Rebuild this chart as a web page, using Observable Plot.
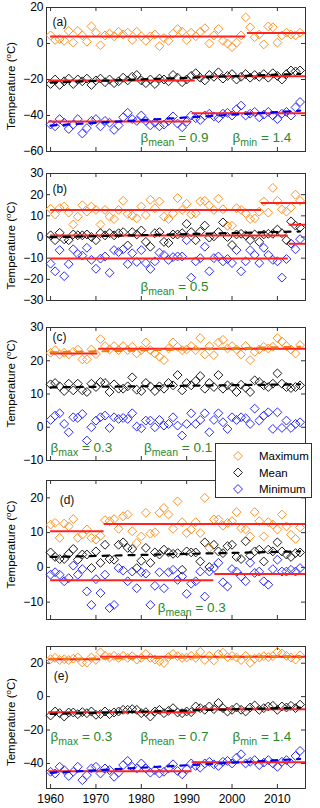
<!DOCTYPE html>
<html><head><meta charset="utf-8">
<script src="https://cdn.jsdelivr.net/npm/d3@7"></script>
<script src="https://cdn.jsdelivr.net/npm/@observablehq/plot@0.6"></script>
<style>
body{margin:0;background:#fff;}
#chart{position:relative;width:320px;height:808px;font-family:"Liberation Sans",Arial,sans-serif;overflow:hidden;}
#chart svg{position:absolute;left:0;overflow:visible;}
</style></head><body><div id="chart"></div>
<script>
// ---------- data ----------
const years = [1960,1961,1962,1963,1964,1965,1966,1967,1968,1969,1970,1971,1972,1973,1974,1975,1976,1977,1978,1979,1980,1981,1982,1983,1984,1985,1986,1987,1988,1989,1990,1991,1992,1993,1994,1995,1996,1997,1998,1999,2000,2001,2002,2003,2004,2005,2006,2007,2008,2009,2010,2011,2012,2013,2014,2015];
const xTicks = [1960,1970,1980,1990,2000,2010];

// panel (a)
const aMax = [4.5,2,2.5,1.5,7,0.5,7,4.5,1,9.5, 6,-1,4.5,5.5,4,6.5,5,6,2,6.5, 4,1.5,4,5,-1.5,3,1.5,5.5,8,6.5, 2,6,4,6.5,8.5,0,4.5,8,1.5,0, -2,0.5,4.5,14.5,9,3.5,5,-0.5,9.5,9, 0.5,4.5,6,5,4.5,6];
const aMean = [-22.5,-20,-23,-21,-19.5,-22.5,-20,-21,-19.5,-23, -20.5,-19.5,-21.5,-20,-22,-21,-19,-20.5,-18.5,-17.5, -20.5,-22,-20,-22.5,-19.5,-20,-21,-17.5,-19,-21.5, -20,-18,-16.5,-19,-20.5,-17.5,-18.5,-16,-19.5,-18, -17,-20,-18.5,-17,-19,-17.5,-18.5,-17,-19,-16.5, -18,-20,-17,-15,-15.5,-15];
const aMin = [-45,-46,-42,-44,-47.5,-45,-42,-50,-47,-43, -42,-46,-43,-44,-48,-45.5,-41,-38.5,-42,-43, -40,-43,-45.5,-44,-46,-45,-43,-40.5,-44.5,-46.5, -43.5,-40,-41.5,-42.5,-40,-39,-40.5,-41.5,-39,-38.5, -40,-36.5,-34.5,-40,-39,-38,-41,-39.5,-38,-40, -42,-39,-38,-40,-35.5,-32.5];
const aSegments = [
  {series:"max", from:1960, to:2003, value:3.9},
  {series:"max", from:2003.4, to:2016.2, value:5.8},
  {series:"mean", from:1959.6, to:1991.9, value:-20.5},
  {series:"mean", from:1991.9, to:2016.2, value:-18.2},
  {series:"min", from:1959.6, to:1991, value:-43.4},
  {series:"min", from:1991.2, to:2016.2, value:-38.8}
];
const aTrends = [
  {series:"mean", start:-21.7, end:-16.9},
  {series:"min", start:-45.6, end:-37.3}
];
const aBetas = [{sub:"mean", value:"0.9"}, {sub:"min", value:"1.4"}];

// panel (b)
const bMax = [13.3,10.7,13.6,14.4,11.5,5.9,9.6,15,12,14.4, 12.8,5.9,12.8,9.6,8.5,12.8,17.1,10.9,10.1,8.8, 14.4,10.4,17.6,13.6,16.8,9.6,8.5,11.2,18.4,12.8, 15.7,10.7,11.2,16.8,17.1,14.9,12.8,18.1,13.1,5.3, 5.3,13.6,12.8,11.2,8.5,8.8,12,16.8,11.5,23.2, 17.1,13.1,12,13.9,20,17.1];
const bMean = [0.8,-1.5,2,-1.1,-1.5,1.2,0.8,0.8,1.2,0, -1.5,1.8,0.8,1.8,0.8,1.8,2.3,-4,2.3,1.2, 3.1,-2.3,-4.6,1.8,2.3,-2.3,-2.8,1.2,1.2,1.8, 6.2,2.3,-1.5,2.6,5.4,-0.3,0.3,2.3,6.9,0, -3.8,1.2,1.5,0.8,-1.5,1.2,-2.3,1.2,1.5,1.5, 3.5,1.8,-1.5,7.4,5.4,4.5];
const bMin = [-12.6,-16.2,-6.2,-18.5,-12.8,-5.8,-8,-8.8,-5.1,-10.8, -15,-10.2,-9.2,-16.9,-6.2,-7.1,-5.8,-12.8,-7.7,-11.8, -6.2,-12.3,-15.1,-11.5,-7.4,-8.5,-10.8,-9.5,-9.2,-9.2, -1.5,-19.2,-11.5,-10,-4.6,-16.2,-10,-9.2,-11.5,-10.4, -12.3,-6.2,-16.2,-11.5,-6.2,-8.5,-12.3,-5.1,-8.5,-10.8, -11.5,-19.2,-10.4,-3.1,-5.8,-1];
const bSegments = [
  {series:"max", from:1960, to:2006.5, value:12.7},
  {series:"max", from:2006.5, to:2016.2, value:16.1},
  {series:"mean", from:1960, to:2012.4, value:0.7},
  {series:"mean", from:2012.6, to:2016.2, value:5.8},
  {series:"min", from:1960, to:2012.4, value:-10.2},
  {series:"min", from:2012.6, to:2016.2, value:-3.2}
];
const bTrends = [{series:"mean", start:-0.1, end:2.6}];
const bBetas = [{sub:"mean", value:"0.5"}];

// panel (c)
const cMax = [22.4,23.2,21.9,22.4,21.9,22.7,23.4,20.4,20.4,23.4, 22,26.5,24.4,23.4,24.4,23.2,24.4,23.2,24.2,22.2, 23.2,25.5,23.2,22.2,21.2,20.2,23.7,25.5,24.2,23.2, 23.4,24.4,23.2,26.8,21.9,24.4,21.7,25.5,26.3,23.7, 24.4,23.4,21.9,24.4,20.2,22.7,23.4,24.2,23.7,24.2, 26.8,25.8,24.4,23.4,22.2,24.7];
const cMean = [12.9,13.3,12.3,10.9,13.1,11.1,13.1,11.1,10.6,13.1, 12.1,13.6,13.3,10.6,12.9,11.6,11.6,12.3,15,11.3, 10.9,13.3,12.3,10.9,12.3,11.6,13.3,12.6,15.7,11.1, 13.3,12.6,13.9,15.4,11.6,13.3,12.1,15.7,11.6,12.6, 12.1,10.6,12.8,11.9,10.6,14.1,13.6,12.6,12.1,13.1, 16.2,13.1,12.1,11.8,12.1,12.6];
const cMin = [2.2,3.5,4.2,1,-1.5,3,2.8,4,-4,0, 2,3,3.5,-0.2,3,2.5,2.8,2.5,4.2,0.2, -0.3,2,2,0,2.2,0.5,1,3,0.5,-2.5, 1,4.2,1,2.2,4.2,-1.5,2.2,4.2,1.5,-0.5, 3,2.2,3,2.7,1,5.6,2,3.5,4.5,-0.5, 4.5,-0.2,2,-0.2,1,1.5];
const cSegments = [
  {series:"max", from:1960, to:1970.4, value:22.2},
  {series:"max", from:1970.6, to:2016.2, value:23.6}
];
const cTrends = [
  {series:"max", start:22.5, end:24.2},
  {series:"mean", start:12.0, end:12.9}
];
const cBetas = [{sub:"max", value:"0.3"}, {sub:"mean", value:"0.1"}];

// panel (d)
const dMax = [12.3,12.8,8.5,12.6,11.8,13.9,8.5,9.4,10.9,8.5, 8,9.1,13.6,13.3,13.9,11.1,14.7,15.2,10.4,7, 8.9,15.7,9.7,10.1,15.7,17.1,15.2,11.1,19,13, 9.9,10.9,13,9.9,20,5.6,13.8,13.8,12,12.8, 13.3,15.9,11.3,10.9,8.9,15.9,13.3,8.9,13,12.3, 10.9,15.2,11.8,9.4,8.2,11.5];
const dMean = [4.3,3,2.4,2.4,3.9,5.3,2.2,3.7,3.7,-0.2, 4.6,1.3,6.5,2.4,2.2,6.5,7.2,5.6,5.3,-0.2, 1.9,5.6,1.3,4.3,3.7,5.1,4.3,3.9,4.1,-0.7, 4.6,4.3,4.3,1.7,7.2,0.1,6.5,4.6,4.1,6.1, 6.5,3,2.4,7.5,3.4,4.6,5.1,1.7,5.1,4.6, 7.2,4.6,3.7,3,4.1,4.3];
const dMin = [-2.1,-1.4,-2.1,-4,-3.1,0.5,-2.1,-0.5,-6.9,-10.8, -3.4,-7.4,-2.1,-11.7,-10.8,-0.2,-0.9,-4,-1.2,-6, -1.4,-1.8,-10.8,-5.3,-1.4,-6,-1.4,-0.7,-3.6,-2.6, -7.6,-4.7,-4,-1.2,-8.4,-1.2,-0.2,1.3,-4.3,-5.5, -0.5,-1.2,-2.6,-4,1.3,-1.6,-1.2,-4,-5,-0.5, 2.2,-1.2,-1.2,-0.7,-1.2,-0.2];
const dSegments = [
  {series:"max", from:1960, to:1971.8, value:10.4},
  {series:"max", from:1971.8, to:2016.2, value:12.5},
  {series:"min", from:1960, to:1996, value:-3.7},
  {series:"min", from:1996.2, to:2016.2, value:-1.9}
];
const dTrends = [{series:"mean", start:3.0, end:4.6}];
const dBetas = [{sub:"mean", value:"0.3"}];

// panel (e)
const eMax = [22.4,23.2,21.9,22.4,21.9,22.7,23.4,20.4,20.4,23.4, 22,26.5,24.4,23.4,24.4,23.2,24.4,23.2,24.2,22.2, 23.2,25.5,23.2,22.2,21.2,20.2,23.7,25.5,24.2,23.2, 23.4,24.4,23.2,26.8,21.9,24.4,21.7,25.5,26.3,23.7, 24.4,23.4,21.9,24.4,20.2,22.7,23.4,24.2,23.7,24.2, 26.8,25.8,24.4,23.4,22.2,24.7];
const eMean = [-11.3,-8.9,-9.9,-11.9,-9.5,-9.5,-10.5,-9.3,-9.9,-8.9, -10.9,-10.5,-8.9,-10.5,-9.5,-8.9,-7.9,-7.9,-7.5,-7.9, -9.9,-9.3,-11.9,-8.9,-7.9,-9.9,-8.5,-6.9,-9.5,-9.9, -8.9,-9.3,-5.9,-6.9,-7.9,-5.9,-7.5,-3.8,-6.9,-8.9, -7.9,-6.5,-7.9,-8.9,-6.5,-5.3,-7.9,-6.9,-5.9,-5.5, -7.9,-5.9,-6.5,-5.5,-6.9,-4.8];
const eMin = [-45,-46,-42,-44,-47.5,-45,-42,-50,-47,-43, -42,-46,-43,-44,-48,-45.5,-41,-38.5,-42,-43, -40,-43,-45.5,-44,-46,-45,-43,-40.5,-44.5,-46.5, -43.5,-40,-41.5,-42.5,-40,-39,-40.5,-41.5,-39,-38.5, -40,-36.5,-34.5,-40,-39,-38,-41,-39.5,-38,-40, -42,-39,-38,-40,-35.5,-32.5];
const eSegments = [
  {series:"max", from:1959.6, to:1971, value:22.3},
  {series:"max", from:1971, to:2016.2, value:23.9},
  {series:"mean", from:1959.6, to:1991.9, value:-9.3},
  {series:"mean", from:1991.9, to:2016.2, value:-7.5},
  {series:"min", from:1959.6, to:1991.2, value:-44.6},
  {series:"min", from:1991.2, to:2016.2, value:-39.3}
];
const eTrends = [
  {series:"max", start:22.5, end:24.2},
  {series:"mean", start:-10.4, end:-6.6},
  {series:"min", start:-45.6, end:-37.3}
];
const eBetas = [{sub:"max", value:"0.3"}, {sub:"mean", value:"0.7"}, {sub:"min", value:"1.4"}];

const legendLabels = ["Maximum", "Mean", "Minimum"];

// ---------- styling / layout ----------
const colors = {max:"#ff9326", mean:"#1a1a1a", min:"#2b2bff"};
const trendColors = {max:"#f07a10", mean:"#000000", min:"#0000ee"};
const redColor = "#ff2222";
const green = "#2a8a2a";
const axisColor = "#333";
const ML = 46, MR = 15, W = 320;
const FONT = "'Liberation Sans', Arial, Helvetica, sans-serif";

const layout = [
  {tag:"(a)", top:7,   bottom:151, domain:[-60,20], yticks:[-60,-40,-20,0,20],
   max:aMax, mean:aMean, min:aMin, segs:aSegments, trends:aTrends, betas:aBetas,
   tagAt:[1960.4, 11.7], betaY:-54.6, betaX:[1979.8, 2000.1], labelDy:7},
  {tag:"(b)", top:173, bottom:300, domain:[-30,30], yticks:[-30,-20,-10,0,10,20,30],
   max:bMax, mean:bMean, min:bMin, segs:bSegments, trends:bTrends, betas:bBetas,
   tagAt:[1960.4, 22.4], betaY:-25.4, betaX:[1979.8], labelDy:9},
  {tag:"(c)", top:327, bottom:460, domain:[-10,30], yticks:[-10,0,10,20,30],
   max:cMax, mean:cMean, min:cMin, segs:cSegments, trends:cTrends, betas:cBetas,
   tagAt:[1960.4, 27], betaY:-7.3, betaX:[1960, 1980.6], labelDy:-10},
  {tag:"(d)", top:480, bottom:619, domain:[-15,25], yticks:[-10,0,10,20],
   max:dMax, mean:dMean, min:dMin, segs:dSegments, trends:dTrends, betas:dBetas,
   tagAt:[1962, 19.2], betaY:-12.7, betaX:[1983.6], labelDy:-5},
  {tag:"(e)", top:646, bottom:788, domain:[-55,30], yticks:[-40,-20,0,20],
   max:eMax, mean:eMean, min:eMin, segs:eSegments, trends:eTrends, betas:eBetas,
   tagAt:[1960.7, 12], betaY:-26.3, betaX:[1960, 1979.8, 2000.1], labelDy:5}
];

const chart = document.getElementById("chart");

layout.forEach((p, idx) => {
  const isLast = idx === layout.length - 1;
  const mt = 10, mb = isLast ? 808 - p.bottom : 10;
  const innerH = p.bottom - p.top;
  const innerW = W - ML - MR;
  const h = innerH + mt + mb;

  const seriesRows = k => years.map((yr, i) => ({year: yr, value: p[k][i], series: k}));
  const trendRows = p.trends.flatMap(t => [
    {year: years[0], value: t.start, series: t.series},
    {year: years[years.length - 1], value: t.end, series: t.series}
  ]);
  const betaRows = p.betas.map((b, i) => ({x: p.betaX[i], y: p.betaY, label: `β|${b.sub}| = ${b.value}`}));

  const marks = [
    Plot.frame({stroke: axisColor, strokeWidth: 1}),
    Plot.tickY(p.yticks, {y: d => d, insetRight: innerW - 4, stroke: axisColor}),
    Plot.tickY(p.yticks, {y: d => d, insetLeft: innerW - 4, stroke: axisColor}),
    Plot.tickX(xTicks, {x: d => d, insetTop: innerH - 4, stroke: axisColor}),
    Plot.tickX(xTicks, {x: d => d, insetBottom: innerH - 4, stroke: axisColor}),
    Plot.axisY(p.yticks, {anchor: "left", tickSize: 0, tickPadding: 3, label: null, fontSize: 12}),
    ...(isLast ? [Plot.axisX(xTicks, {anchor: "bottom", tickSize: 0, tickPadding: 6, label: null, fontSize: 12, tickFormat: "d"})] : []),
    ...["max", "mean", "min"].map(k =>
      Plot.dot(seriesRows(k), {x: "year", y: "value", symbol: "diamond2", r: 4, stroke: colors[k], strokeWidth: 1, fill: "none"})),
    Plot.ruleY(p.segs, {y: "value", x1: "from", x2: "to", stroke: redColor, strokeWidth: 2}),
    ...p.trends.map(t =>
      Plot.line(trendRows.filter(r => r.series === t.series), {x: "year", y: "value", stroke: trendColors[t.series], strokeWidth: 2.2, strokeDasharray: "6,7"})),
    Plot.text([p.tag], {x: () => p.tagAt[0], y: () => p.tagAt[1], text: d => d, textAnchor: "start", fontSize: 12, fill: "#111"}),
    Plot.text(betaRows, {x: "x", y: "y", text: "label", textAnchor: "start", lineAnchor: "bottom", fill: green, fontSize: 13.5})
  ];

  const svg = Plot.plot({
    width: W, height: h,
    marginLeft: ML, marginRight: MR, marginTop: mt, marginBottom: mb,
    x: {domain: [1959.1, 2016.2], axis: isLast ? undefined : null},
    y: {domain: p.domain},
    style: {fontFamily: FONT, fontSize: "12px", background: "none", overflow: "visible", color: "#000"},
    marks
  });
  svg.style.top = (p.top - mt) + "px";

  // subscripts for β labels
  svg.querySelectorAll("text").forEach(t => {
    const s = t.textContent;
    if (s.includes("|")) {
      const [a, sub, rest] = s.split("|");
      while (t.firstChild) t.removeChild(t.firstChild);
      const ns = "http://www.w3.org/2000/svg";
      const t1 = document.createElementNS(ns, "tspan"); t1.textContent = a;
      const t2 = document.createElementNS(ns, "tspan"); t2.textContent = sub;
      t2.setAttribute("dy", "4"); t2.setAttribute("font-size", "10.5");
      const t3 = document.createElementNS(ns, "tspan"); t3.textContent = rest;
      t3.setAttribute("dy", "-4");
      t.append(t1, t2, t3);
    }
  });

  // y axis title with superscript
  const cy = mt + innerH / 2 + p.labelDy;
  const lab = d3.select(svg).append("text")
    .attr("transform", `translate(15,${cy}) rotate(-90)`)
    .attr("text-anchor", "middle")
    .attr("font-family", FONT)
    .attr("font-size", 11.5)
    .attr("fill", "#000");
  lab.append("tspan").text("Temperature (");
  lab.append("tspan").attr("dy", -4).attr("font-size", 8).text("o");
  lab.append("tspan").attr("dy", 4).text("C)");

  chart.appendChild(svg);
});

// ---------- legend ----------
const leg = d3.select(chart).append("svg")
  .attr("width", 98).attr("height", 56)
  .style("left", "215px").style("top", "443px");
leg.append("rect").attr("x", 0.5).attr("y", 0.5).attr("width", 96).attr("height", 54)
  .attr("fill", "#fff").attr("stroke", axisColor);
const legKeys = ["max", "mean", "min"];
const sym = d3.symbol(d3.symbolDiamond2, Math.PI * 16);
legendLabels.forEach((lbl, i) => {
  const y = 13 + i * 16.5;
  leg.append("path").attr("d", sym()).attr("transform", `translate(23,${y})`)
    .attr("fill", "none").attr("stroke", colors[legKeys[i]]);
  leg.append("text").attr("x", 44).attr("y", y).attr("dy", "0.35em")
    .attr("font-family", FONT).attr("font-size", 11.5).attr("fill", "#000").text(lbl);
});
</script>
</body></html>
